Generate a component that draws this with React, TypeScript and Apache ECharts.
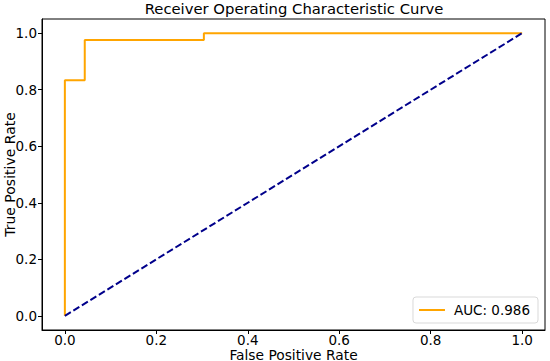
import React, { useEffect, useRef } from "react";
import * as echarts from "echarts";

const fpr = [0, 0, 0.0435, 0.0435, 0.304, 0.304, 1.0];
const tpr = [0, 0.833, 0.833, 0.976, 0.976, 1.0, 1.0];
const diagX = [0, 1];
const diagY = [0, 1];
const tickValues = [0, 0.2, 0.4, 0.6, 0.8, 1.0];
const aucLabel = "AUC: 0.986";

export default function App() {
  const ref = useRef<HTMLDivElement>(null);
  useEffect(() => {
    const chart = echarts.init(ref.current!, null, { renderer: "svg" });
    const font = "DejaVu Sans";
    const axisCommon = (margin: number) => ({
      type: "value",
      min: -0.05,
      max: 1.05,
      nameLocation: "middle",
      nameMoveOverlap: false,
      nameTextStyle: { fontFamily: font, fontSize: 14, color: "#000" },
      axisLine: { show: true, onZero: false, lineStyle: { color: "#000", width: 1 } },
      axisTick: { show: true, length: 4, inside: false, lineStyle: { color: "#000", width: 1 }, customValues: tickValues },
      axisLabel: {
        customValues: tickValues,
        fontFamily: font,
        fontSize: 13.5,
        color: "#000",
        margin,
        formatter: (v: number) => v.toFixed(1),
      },
      splitLine: { show: false },
    });
    chart.setOption({
      animation: false,
      textStyle: { fontFamily: font },
      title: {
        text: "Receiver Operating Characteristic Curve",
        left: 294,
        textAlign: "center",
        top: 1,
        padding: 0,
        textStyle: { fontFamily: font, fontSize: 14.8, fontWeight: "normal", color: "#000" },
      },
      grid: {
        left: 42,
        right: 5,
        top: 19,
        bottom: 31,
        show: true,
        borderColor: "#000",
        borderWidth: 1,
        outerBoundsMode: "none",
        containLabel: false,
      },
      legend: {
        right: 12,
        bottom: 38,
        itemWidth: 26,
        itemHeight: 10,
        padding: [6, 8, 6, 6],
        itemGap: 8,
        borderColor: "#d9d9d9",
        borderWidth: 1,
        borderRadius: 3,
        backgroundColor: "#fff",
        data: [{ name: aucLabel, icon: "path://M0,4L26,4L26,6L0,6Z" }],
        textStyle: { fontFamily: font, fontSize: 13.5, color: "#000", padding: [0, 0, 0, 4] },
      },
      xAxis: {
        ...axisCommon(3),
        name: "False Positive Rate",
        nameGap: 18,
        nameTextStyle: { fontFamily: font, fontSize: 13.8, color: "#000", lineHeight: 14 },
      },
      yAxis: { ...axisCommon(5), name: "True Positive Rate", nameGap: 25 },
      series: [
        {
          name: aucLabel,
          type: "line",
          data: fpr.map((x, i) => [x, tpr[i]]),
          showSymbol: false,
          symbol: "none",
          lineStyle: { color: "#FFA500", width: 2 },
          itemStyle: { color: "#FFA500" },
        },
        {
          name: "diag",
          type: "line",
          data: diagX.map((x, i) => [x, diagY[i]]),
          showSymbol: false,
          symbol: "none",
          lineStyle: { color: "#00008B", width: 2, type: [7, 3] },
          itemStyle: { color: "#00008B" },
        },
      ],
    });
    return () => chart.dispose();
  }, []);
  return <div ref={ref} style={{ width: 550, height: 361, position: "absolute", left: 0, top: 0 }} />;
}
